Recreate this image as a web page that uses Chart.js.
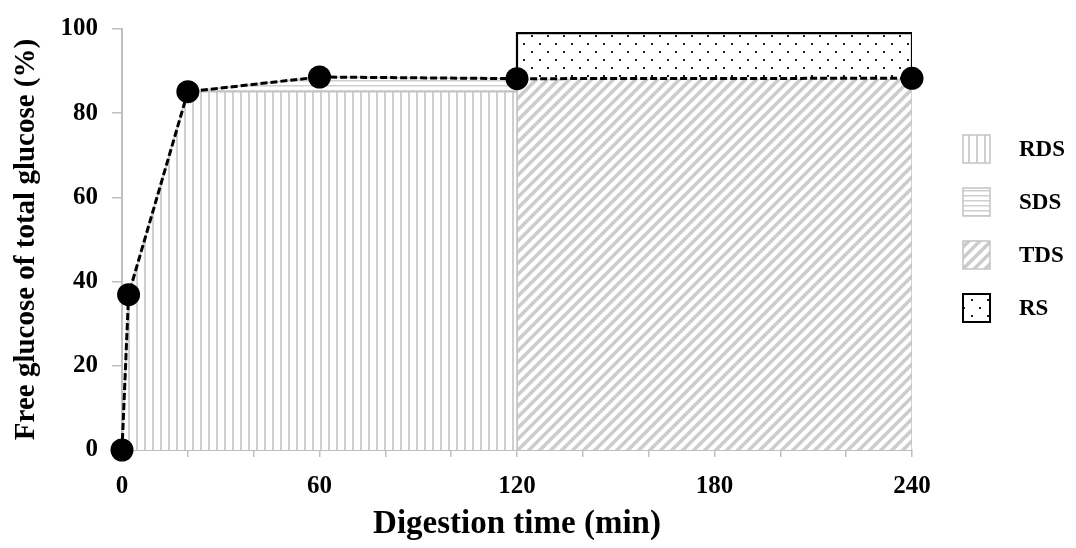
<!DOCTYPE html>
<html>
<head>
<meta charset="utf-8">
<script src="https://cdn.jsdelivr.net/npm/chart.js@4/dist/chart.umd.min.js"></script>
<style>
  html, body { margin: 0; padding: 0; background: #fff; }
  #wrap { width: 1076px; height: 548px; }
</style>
</head>
<body>
<div id="wrap"><canvas id="chart"></canvas></div>
<script>
// measured curve
const timePoints = [0, 2, 20, 60, 120, 240];
const freeGlucose = [0, 36.9, 85.1, 88.6, 88.2, 88.3];

// fraction regions (x = time, y = % glucose)
const rdsTime = [0, 2, 20, 120, 120];
const rdsValue = [0, 36.9, 85.1, 85.1, 0];
const sdsTime = [20, 60, 120, 120];
const sdsValue = [85.1, 88.6, 88.2, 0];
const tdsTime = [120, 120, 240, 240];
const tdsValue = [0, 88.2, 88.2, 0];
const rsTime = [120, 120, 240, 240];
const rsValue = [88.2, 99, 99, 88.2];

const legendNames = ['RDS', 'SDS', 'TDS', 'RS'];
const xTicks = [0, 60, 120, 180, 240];

const serif = '"Liberation Serif", "Times New Roman", serif';

function pts(xs, ys) {
    return xs.map((x, i) => ({ x: x, y: ys[i] }));
}

// hatch patterns
function makePattern(kind) {
    let c = document.createElement('canvas');
    let g = c.getContext('2d');
    if (kind === 'vert') {
        c.width = 8; c.height = 8;
        g.fillStyle = '#fff'; g.fillRect(0, 0, 8, 8);
        g.fillStyle = '#cfcfcf'; g.fillRect(0, 0, 2, 8);
    } else if (kind === 'horiz') {
        c.width = 5; c.height = 5;
        g.fillStyle = '#fff'; g.fillRect(0, 0, 5, 5);
        g.fillStyle = '#cfcfcf'; g.fillRect(0, 0, 5, 1.5);
    } else if (kind === 'diag') {
        c.width = 11; c.height = 11;
        g.fillStyle = '#fff'; g.fillRect(0, 0, 11, 11);
        g.strokeStyle = '#cccccc'; g.lineWidth = 3.5;
        g.beginPath();
        g.moveTo(-2, 13); g.lineTo(13, -2);
        g.moveTo(-13, 13); g.lineTo(2, -2);
        g.moveTo(9, 13); g.lineTo(24, -2);
        g.stroke();
    } else {
        c.width = 16; c.height = 16;
        g.fillStyle = '#fff'; g.fillRect(0, 0, 16, 16);
        g.fillStyle = '#222';
        g.fillRect(3, 3, 2, 2);
        g.fillRect(11, 11, 2, 2);
    }
    return g.createPattern(c, 'repeat');
}

const patVert = makePattern('vert');
const patHoriz = makePattern('horiz');
const patDiag = makePattern('diag');
const patDots = makePattern('dots');

// legend on the right, drawn by hand for the fat swatches
const sideLegend = {
    id: 'sideLegend',
    afterDraw(chart) {
        let ctx = chart.ctx;
        let swatches = [
            { fill: patVert, stroke: '#c4c4c4', w: 1.5 },
            { fill: patHoriz, stroke: '#c4c4c4', w: 1.5 },
            { fill: patDiag, stroke: '#c4c4c4', w: 1.5 },
            { fill: patDots, stroke: '#000', w: 2 }
        ];
        ctx.save();
        legendNames.forEach((name, i) => {
            let cy = 149 + i * 53;
            let s = swatches[i];
            ctx.fillStyle = s.fill;
            ctx.fillRect(963, cy - 14, 27, 28);
            ctx.strokeStyle = s.stroke;
            ctx.lineWidth = s.w;
            ctx.strokeRect(963, cy - 14, 27, 28);
            ctx.fillStyle = '#000';
            ctx.font = 'bold 23px ' + serif;
            ctx.textBaseline = 'middle';
            ctx.fillText(name, 1019, cy + 1);
        });
        ctx.restore();
    }
};

const areaBase = { showLine: true, pointRadius: 0, borderWidth: 1.5, borderColor: '#c4c4c4', tension: 0 };

new Chart(document.getElementById('chart'), {
    type: 'scatter',
    data: {
        datasets: [
            {
                label: 'Glucose',
                data: pts(timePoints, freeGlucose),
                showLine: true,
                borderColor: '#000',
                borderWidth: 3,
                borderDash: [7, 3],
                backgroundColor: '#000',
                pointRadius: 11.5,
                pointBackgroundColor: '#000',
                pointBorderWidth: 0,
                clip: false,
                fill: false
            },
            Object.assign({}, areaBase, {
                label: 'RS', data: pts(rsTime, rsValue),
                backgroundColor: patDots, borderColor: '#000', borderWidth: 2.2,
                fill: { value: 88.2 }
            }),
            Object.assign({}, areaBase, {
                label: 'RDS', data: pts(rdsTime, rdsValue),
                backgroundColor: patVert, fill: 'origin'
            }),
            Object.assign({}, areaBase, {
                label: 'SDS', data: pts(sdsTime, sdsValue),
                backgroundColor: patHoriz, fill: 'origin'
            }),
            Object.assign({}, areaBase, {
                label: 'TDS', data: pts(tdsTime, tdsValue),
                backgroundColor: patDiag, fill: 'origin'
            })
        ]
    },
    options: {
        responsive: true,
        maintainAspectRatio: false,
        animation: false,
        layout: { padding: { top: 27, right: 164, left: 0, bottom: 0 } },
        scales: {
            x: {
                type: 'linear',
                min: 0, max: 240,
                afterFit: s => { s.height = 98; },
                border: { color: '#bfbfbf', width: 2 },
                grid: { drawOnChartArea: false, color: '#bfbfbf', tickLength: 7, lineWidth: 1.5 },
                ticks: {
                    stepSize: 20,
                    padding: 15,
                    color: '#000',
                    font: { family: serif, size: 25, weight: 'bold' },
                    callback: v => xTicks.includes(v) ? String(v) : ''
                },
                title: {
                    display: true,
                    text: 'Digestion time (min)',
                    color: '#000',
                    font: { family: serif, size: 33, weight: 'bold' },
                    padding: { top: 0, bottom: 4 }
                }
            },
            y: {
                min: 0, max: 100,
                afterFit: s => { s.width = 122; },
                border: { color: '#bfbfbf', width: 2 },
                grid: { drawOnChartArea: false, color: '#bfbfbf', tickLength: 10, lineWidth: 1.5 },
                ticks: {
                    stepSize: 20,
                    padding: 14,
                    color: '#000',
                    font: { family: serif, size: 25, weight: 'bold' }
                },
                title: {
                    display: true,
                    text: 'Free glucose of total glucose (%)',
                    color: '#000',
                    font: { family: serif, size: 29, weight: 'bold' },
                    padding: { top: 9, bottom: 0 }
                }
            }
        },
        plugins: {
            legend: { display: false },
            tooltip: { enabled: false }
        }
    },
    plugins: [sideLegend]
});
</script>
</body>
</html>
